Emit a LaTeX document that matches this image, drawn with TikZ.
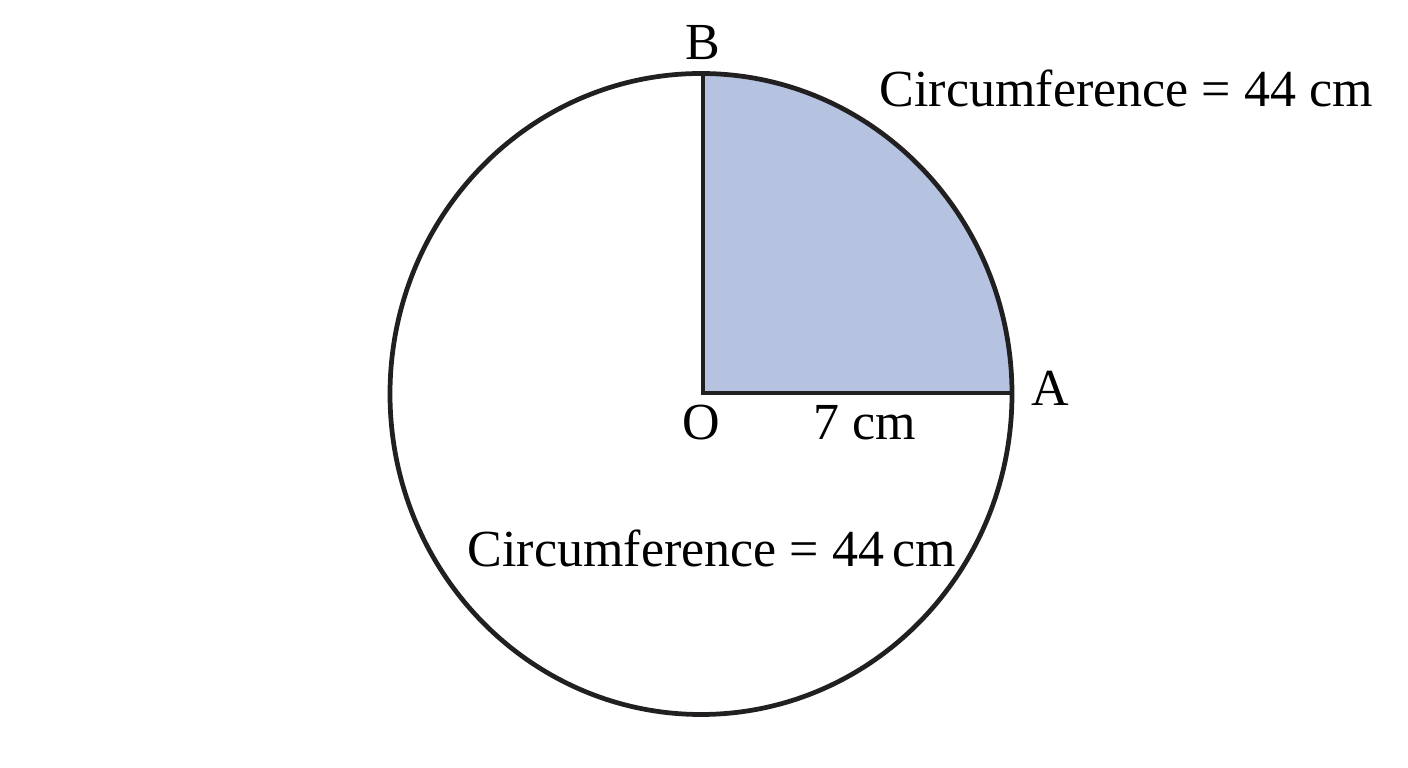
\documentclass[tikz,border=0pt]{standalone}
\usepackage{fontspec}
\setmainfont{Liberation Serif}
\usepackage{xcolor}
\definecolor{ColorSec}{RGB}{182,195,224}
\definecolor{ColorLine}{RGB}{34,31,32}
\tikzset{
  lbl/.style={font=\fontsize{14.8}{16}\selectfont, inner sep=0pt, anchor=base},
  rim/.style={draw=ColorLine, line width=1.35pt}
}
\begin{document}
\begin{tikzpicture}
        \useasboundingbox (0,0) rectangle (14.08,7.68);
        %Diem
        \coordinate (O) at (7.03,3.75);
        \coordinate (A) at (10.12,3.75);
        \coordinate (B) at (7.03,6.94);
        %Hinh quat
        \fill[ColorSec] (O)--(A) arc (0:90:3.09 and 3.19)--cycle;
        %Duong tron
        \draw[rim] (7.01,3.74) ellipse (3.11 and 3.205);
        %Ban kinh
        \draw[rim, line join=miter] (A)--(O)--(B);
        %Ky hieu
        \node[lbl] (nB) at (7.03,7.08) {B};
        \node[lbl] (nA) at (10.50,3.62) {A};
        \node[lbl] (nO) at (7.01,3.28) {O};
        \node[lbl] (r) at (8.645,3.28) {7 cm};
        \node[lbl, anchor=base west] (c1) at (8.79,6.61) {Circumference = 44 cm};
        \node[lbl, anchor=base west] (c2) at (4.67,2.01) {Circumference = 44\,cm};
\end{tikzpicture}
\end{document}
